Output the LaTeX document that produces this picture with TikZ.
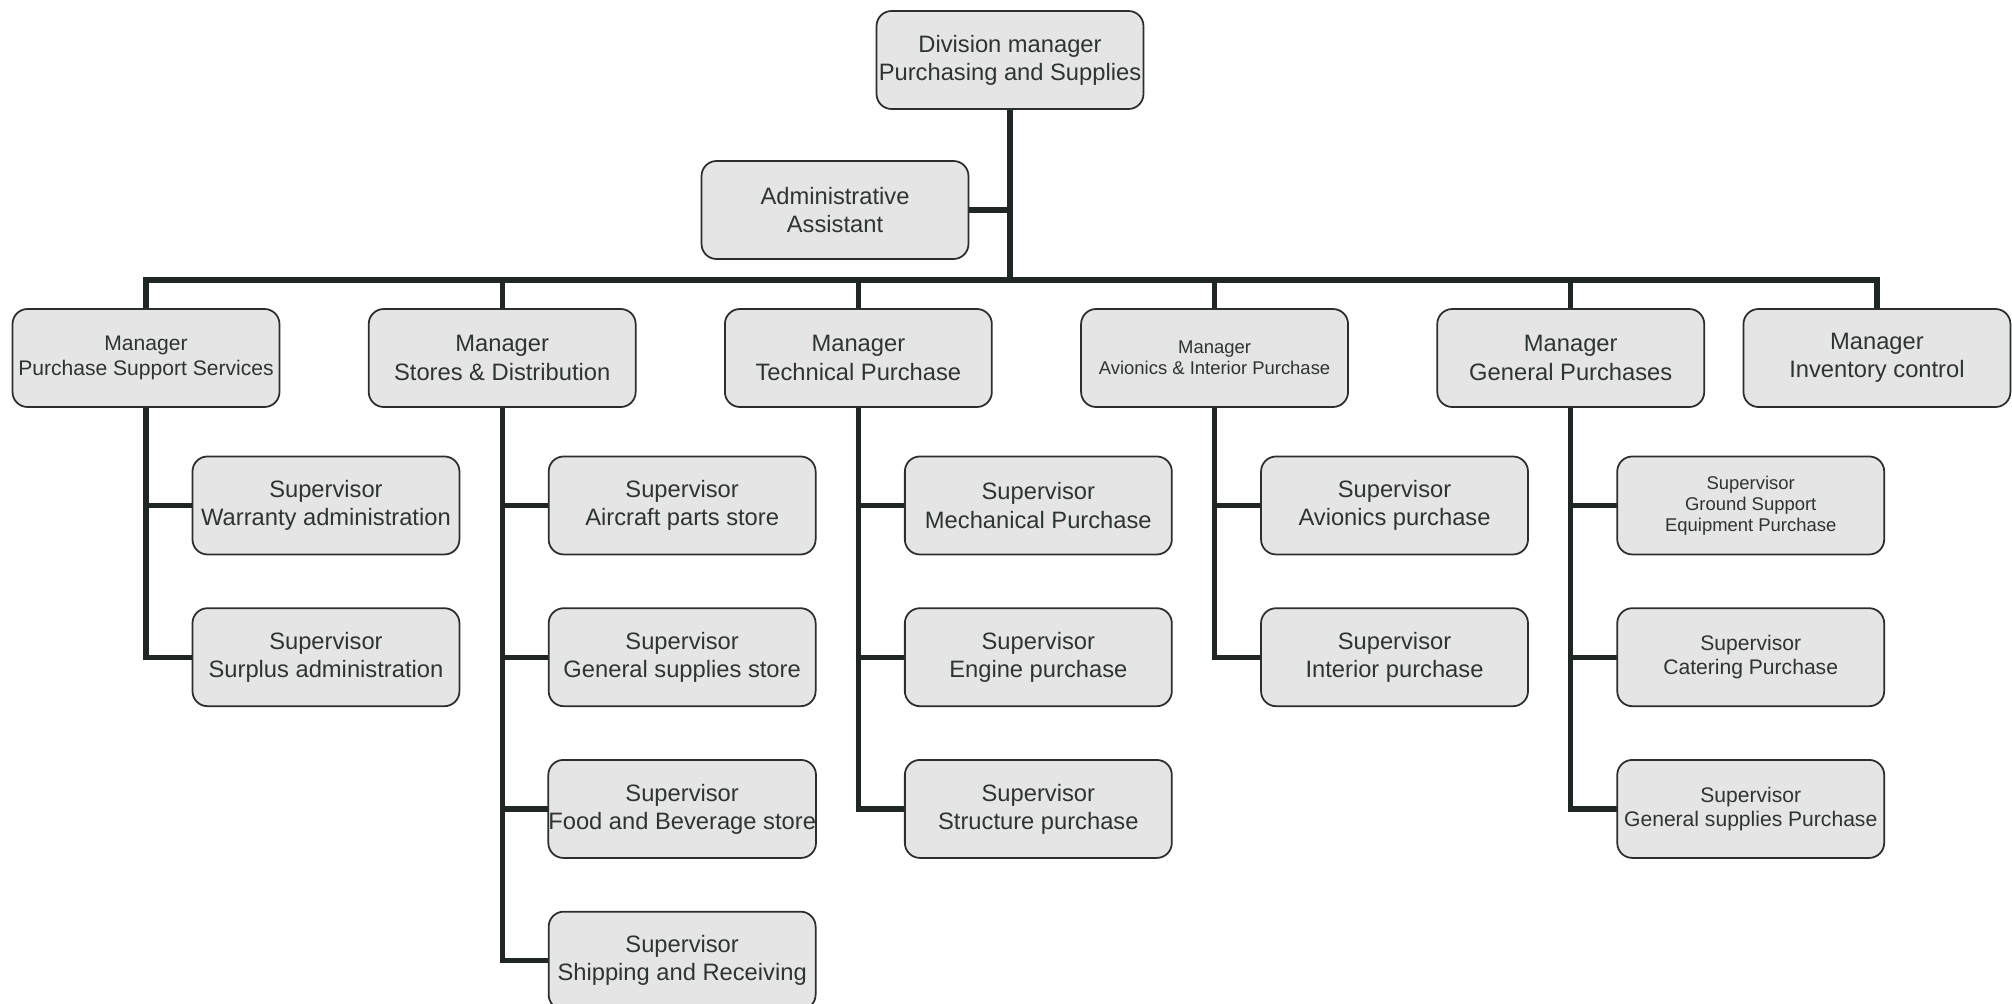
\documentclass[tikz,border=0pt]{standalone}
\usepackage{fontspec}
\setmainfont{Liberation Sans}
\usetikzlibrary{positioning,backgrounds}

\definecolor{boxfill}{HTML}{E5E5E5}
\definecolor{boxline}{HTML}{2A2E2D}
\definecolor{inkgray}{HTML}{2E3432}
\definecolor{wire}{HTML}{1F2624}

\begin{document}
\begin{tikzpicture}[
  x=0.02cm, y=0.02cm,
  node distance=1.04cm and 1.75cm,
  box/.style={draw=boxline, line width=1pt, fill=boxfill, rounded corners=0.3cm, align=center,
    minimum width=5.34cm, minimum height=1.96cm, inner xsep=0pt, inner ysep=2pt,
    text=inkgray, font=\fontsize{13.5}{16}\selectfont},
  smaller/.style={font=\fontsize{12}{14}\selectfont},
  smallest/.style={font=\fontsize{10.5}{12}\selectfont},
  link/.style={draw=wire, line width=3pt, line cap=rect}
]
\useasboundingbox (0,0) rectangle (2012,-1004);

\node[box](division) at (1010,-60) {Division manager\\Purchasing and Supplies};
\node[box](assistant) at (835,-210) {Administrative\\Assistant};
\coordinate (bus) at (0,-280);

% managers
\node[box,smaller](mSupport) at (146,-358) {Manager\\Purchase Support Services};
\node[box,right=of mSupport](mStores) {Manager\\Stores \& Distribution};
\node[box,right=of mStores](mTech) {Manager\\Technical Purchase};
\node[box,smallest,right=of mTech](mAvionics) {Manager\\Avionics \& Interior Purchase};
\node[box,right=of mAvionics](mGeneral) {Manager\\General Purchases};
\node[box,right=0.75cm of mGeneral](mInventory) {Manager\\Inventory control};

% supervisors
\node[box](sWarranty) at ([shift={(3.6cm,-2.95cm)}]mSupport.center) {Supervisor\\Warranty administration};
\node[box,below=of sWarranty](sSurplus) {Supervisor\\Surplus administration};

\node[box](sAircraft) at ([shift={(3.6cm,-2.95cm)}]mStores.center) {Supervisor\\Aircraft parts store};
\node[box,below=of sAircraft](sStore) {Supervisor\\General supplies store};
\node[box,below=of sStore](sFood) {Supervisor\\Food and Beverage store};
\node[box,below=of sFood](sShipping) {Supervisor\\Shipping and Receiving};

\node[box](sMechanical) at ([shift={(3.6cm,-2.95cm)}]mTech.center) {Supervisor\\Mechanical Purchase};
\node[box,below=of sMechanical](sEngine) {Supervisor\\Engine purchase};
\node[box,below=of sEngine](sStructure) {Supervisor\\Structure purchase};

\node[box](sAvionics) at ([shift={(3.6cm,-2.95cm)}]mAvionics.center) {Supervisor\\Avionics purchase};
\node[box,below=of sAvionics](sInterior) {Supervisor\\Interior purchase};

\node[box,smallest](sGround) at ([shift={(3.6cm,-2.95cm)}]mGeneral.center) {Supervisor\\Ground Support\\Equipment Purchase};
\node[box,smaller,below=of sGround](sCatering) {Supervisor\\Catering Purchase};
\node[box,smaller,below=of sCatering](sSupplies) {Supervisor\\General supplies Purchase};

\begin{scope}[on background layer]
\draw[link] (division) -- (division |- bus);
\draw[link] (assistant) -- (assistant -| division);
\draw[link] (mSupport.north |- bus) -- (mInventory.north |- bus);
\foreach \m in {mSupport,mStores,mTech,mAvionics,mGeneral,mInventory}
  \draw[link] (\m) -- (\m |- bus);

\foreach \s in {sWarranty,sSurplus}
  \draw[link] (mSupport) |- (\s);
\foreach \s in {sAircraft,sStore,sFood,sShipping}
  \draw[link] (mStores) |- (\s);
\foreach \s in {sMechanical,sEngine,sStructure}
  \draw[link] (mTech) |- (\s);
\foreach \s in {sAvionics,sInterior}
  \draw[link] (mAvionics) |- (\s);
\foreach \s in {sGround,sCatering,sSupplies}
  \draw[link] (mGeneral) |- (\s);
\end{scope}

\end{tikzpicture}
\end{document}
